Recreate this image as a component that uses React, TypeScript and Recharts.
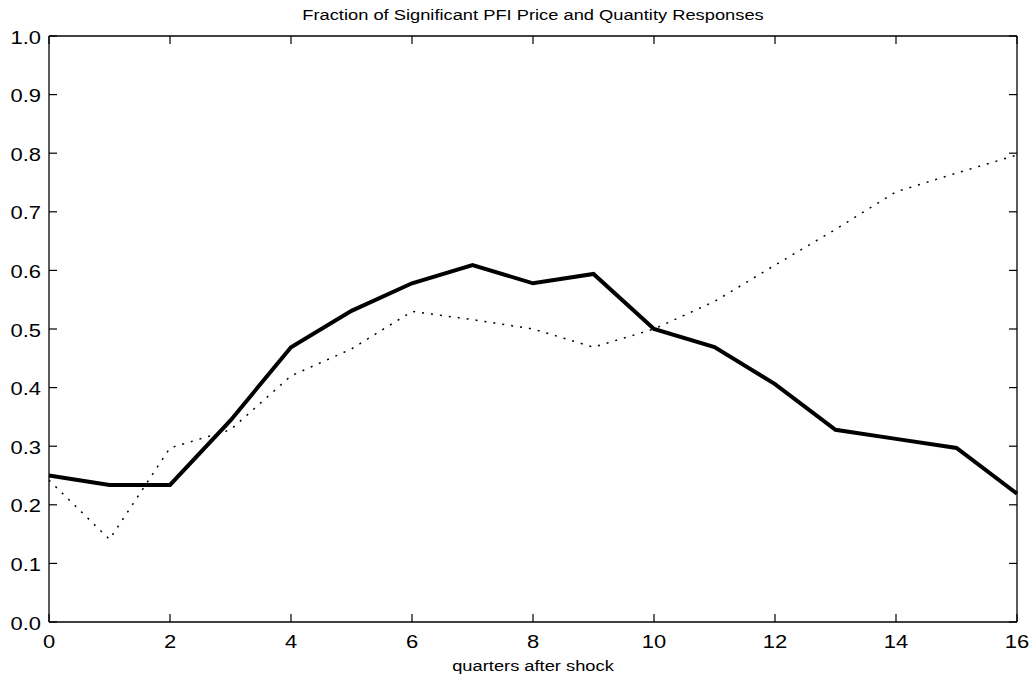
import { LineChart, Line, XAxis, YAxis } from 'recharts';

// quarters after the shock
const quarters = [0, 1, 2, 3, 4, 5, 6, 7, 8, 9, 10, 11, 12, 13, 14, 15, 16];

// solid line
const solidSeries = [
  0.25, 0.234, 0.234, 0.344, 0.469, 0.531, 0.578, 0.609, 0.578,
  0.594, 0.5, 0.469, 0.406, 0.328, 0.3125, 0.297, 0.219,
];

// dotted line
const dottedSeries = [
  0.242, 0.141, 0.297, 0.328, 0.42, 0.466, 0.53, 0.516, 0.5,
  0.469, 0.5, 0.547, 0.609, 0.67, 0.734, 0.766, 0.797,
];

const xTicks = [0, 2, 4, 6, 8, 10, 12, 14, 16];
const yTicks = [0, 0.1, 0.2, 0.3, 0.4, 0.5, 0.6, 0.7, 0.8, 0.9, 1.0];

const W = 1033;
const H = 675;
const MARGIN = { top: 35, right: 15, bottom: 0, left: 0 };
// box edges (margin + the 1px top / right axes)
const PLOT_TOP = MARGIN.top + 1;
const PLOT_RIGHT = W - MARGIN.right - 1;

const FONT = '"Liberation Sans", Arial, Helvetica, sans-serif';
const TICK_LEN = 8;
const STRETCH = 1.22; // the original type is a bit wide

const chartData = quarters.map((q, i) => ({
  q,
  solid: solidSeries[i],
  dotted: dottedSeries[i],
}));

// bottom tick: inward mark at the bottom and the top of the box, plus label
const BottomTick = (props: any) => {
  const { x, y, payload } = props;
  return (
    <g>
      <line x1={x} y1={y} x2={x} y2={y - TICK_LEN} stroke="#000" strokeWidth={1.2} />
      <line x1={x} y1={PLOT_TOP} x2={x} y2={PLOT_TOP + TICK_LEN} stroke="#000" strokeWidth={1.2} />
      <text
        transform={`translate(${x},${y + 26}) scale(${STRETCH},1)`}
        textAnchor="middle"
        fontSize={18}
        fontFamily={FONT}
        fill="#000"
      >
        {payload.value}
      </text>
    </g>
  );
};

// left tick: inward mark at the left and the right of the box, plus label
const LeftTick = (props: any) => {
  const { x, y, payload } = props;
  return (
    <g>
      <line x1={x} y1={y} x2={x + TICK_LEN} y2={y} stroke="#000" strokeWidth={1.2} />
      <line x1={PLOT_RIGHT} y1={y} x2={PLOT_RIGHT - TICK_LEN} y2={y} stroke="#000" strokeWidth={1.2} />
      <text
        transform={`translate(${x - 8},${y + 7.5}) scale(${STRETCH},1)`}
        textAnchor="end"
        fontSize={18}
        fontFamily={FONT}
        fill="#000"
      >
        {Number(payload.value).toFixed(1)}
      </text>
    </g>
  );
};

export default function App() {
  return (
    <div style={{ position: 'absolute', left: 0, top: 0, width: W, height: H, background: '#fff' }}>
      <LineChart width={W} height={H} data={chartData} margin={MARGIN}>
        <text
          transform={`translate(533,20) scale(${STRETCH},1)`}
          textAnchor="middle"
          fontSize={15}
          fontFamily={FONT}
          fill="#000"
        >
          Fraction of Significant PFI Price and Quantity Responses
        </text>
        <text
          transform={`translate(533,671) scale(${STRETCH},1)`}
          textAnchor="middle"
          fontSize={15}
          fontFamily={FONT}
          fill="#000"
        >
          quarters after shock
        </text>
        <XAxis
          xAxisId="b"
          dataKey="q"
          type="number"
          domain={[0, 16]}
          ticks={xTicks}
          interval={0}
          height={53}
          tickSize={0}
          tickMargin={0}
          tick={<BottomTick />}
          axisLine={{ stroke: '#000', strokeWidth: 1.6 }}
        />
        <XAxis
          xAxisId="t"
          dataKey="q"
          type="number"
          orientation="top"
          domain={[0, 16]}
          height={1}
          tick={false}
          tickLine={false}
          axisLine={{ stroke: '#000', strokeWidth: 1.3 }}
        />
        <YAxis
          yAxisId="l"
          type="number"
          domain={[0, 1]}
          ticks={yTicks}
          interval={0}
          width={49}
          tickSize={0}
          tickMargin={0}
          tick={<LeftTick />}
          axisLine={{ stroke: '#000', strokeWidth: 1.3 }}
        />
        <YAxis
          yAxisId="r"
          type="number"
          orientation="right"
          domain={[0, 1]}
          width={1}
          tick={false}
          tickLine={false}
          axisLine={{ stroke: '#000', strokeWidth: 1.3 }}
        />
        <Line
          xAxisId="b"
          yAxisId="l"
          type="linear"
          dataKey="dotted"
          stroke="#000"
          strokeWidth={1.5}
          strokeDasharray="2 7"
          dot={false}
          activeDot={false}
          isAnimationActive={false}
        />
        <Line
          xAxisId="b"
          yAxisId="l"
          type="linear"
          dataKey="solid"
          stroke="#000"
          strokeWidth={4}
          strokeLinejoin="miter"
          dot={false}
          activeDot={false}
          isAnimationActive={false}
        />
      </LineChart>
    </div>
  );
}
